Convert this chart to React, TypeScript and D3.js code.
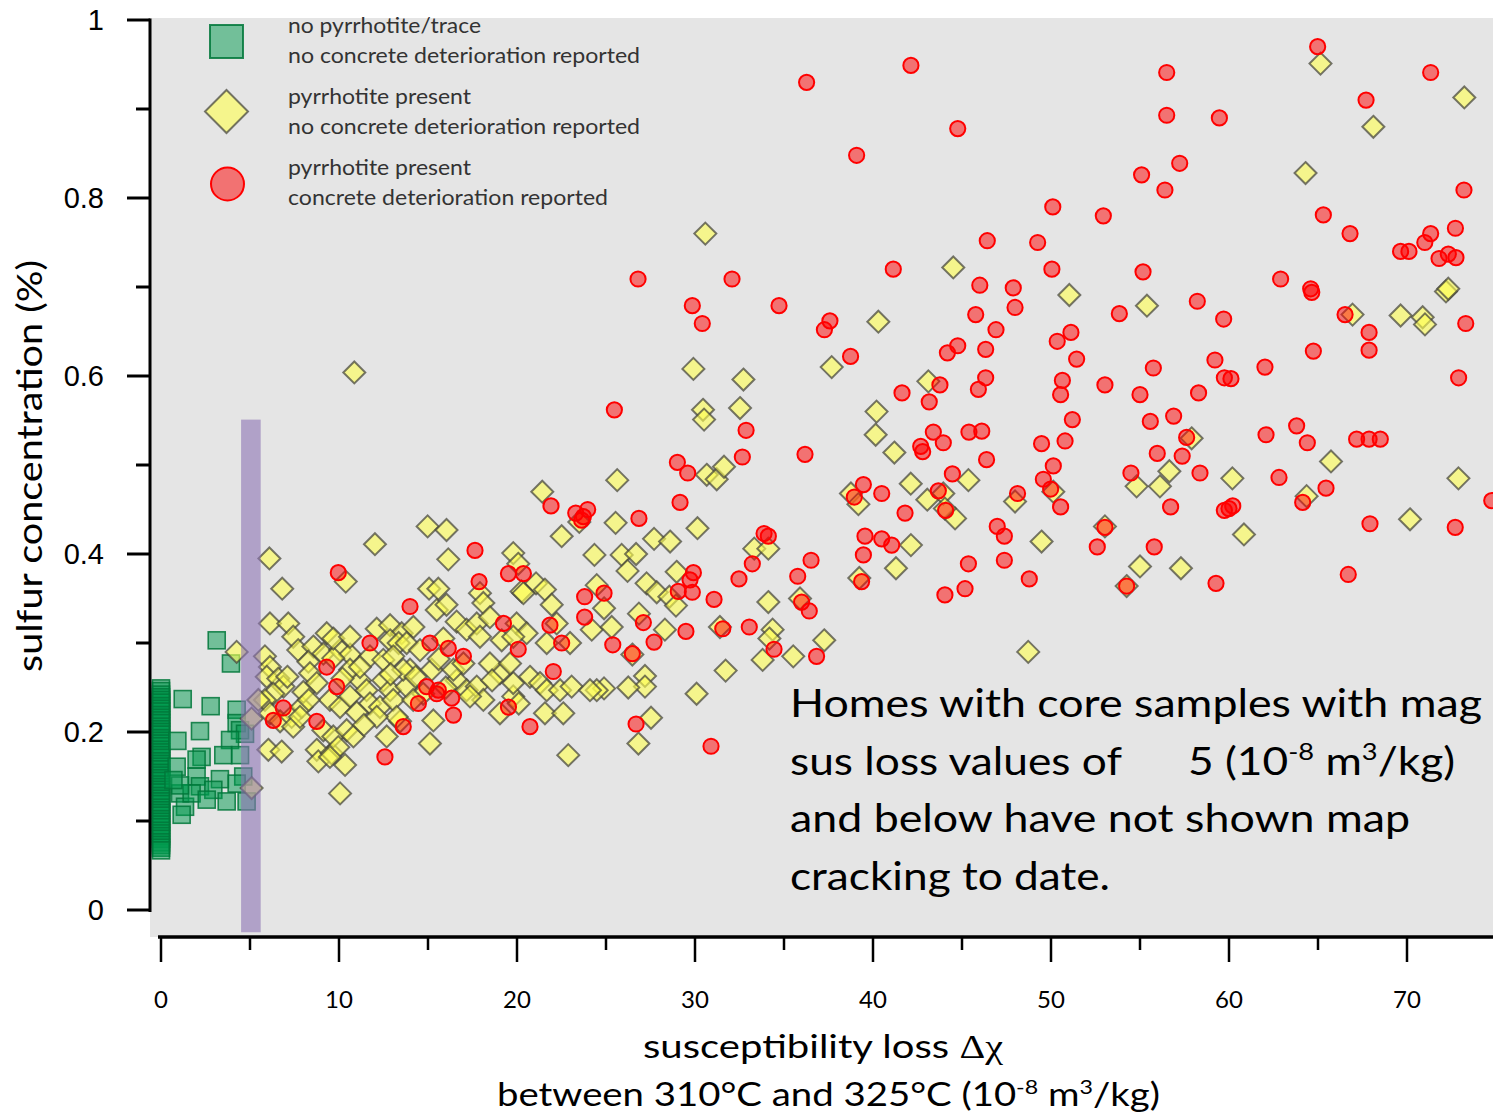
import React from "react";
import * as d3 from "d3";

// ---------- data (x = susceptibility loss, y = sulfur %) ----------
const squareColumnY = [0.249, 0.246, 0.242, 0.239, 0.236, 0.233, 0.229, 0.226, 0.223, 0.219, 0.216, 0.213, 0.210, 0.206, 0.203, 0.200, 0.197, 0.193, 0.190, 0.187, 0.184, 0.180, 0.177, 0.174, 0.171, 0.167, 0.164, 0.161, 0.158, 0.154, 0.151, 0.148, 0.145, 0.141, 0.138, 0.135, 0.132, 0.128, 0.125, 0.122, 0.119, 0.115, 0.112, 0.109, 0.106, 0.102, 0.099, 0.096, 0.093, 0.089, 0.086, 0.083, 0.080, 0.076, 0.073, 0.070, 0.067];

const squares: [number, number][] = [
  [3.13, 0.303], [3.93, 0.277], [1.22, 0.237], [2.79, 0.229], [4.25, 0.225], [2.19, 0.201], [0.92, 0.190],
  [4.25, 0.210], [4.44, 0.202], [4.72, 0.198], [3.88, 0.191], [3.50, 0.174], [4.44, 0.174], [2.28, 0.172],
  [2.00, 0.169], [0.88, 0.161], [3.31, 0.147], [4.62, 0.150], [2.00, 0.150], [2.19, 0.139], [2.94, 0.135],
  [3.69, 0.122], [4.81, 0.122], [4.25, 0.142], [1.07, 0.131], [1.35, 0.116], [1.16, 0.107], [1.72, 0.131],
  [2.57, 0.124], [1.07, 0.140], [0.70, 0.146],
];

const diamonds: [number, number][] = [
  [30.58, 0.760], [44.51, 0.722], [40.30, 0.661], [29.91, 0.608], [32.72, 0.596], [37.68, 0.610], [43.11, 0.594],
  [32.53, 0.564], [30.45, 0.562], [40.20, 0.560],
  [65.14, 0.951], [73.22, 0.913], [68.11, 0.880], [64.30, 0.828], [51.03, 0.691], [55.39, 0.679], [66.94, 0.669],
  [69.64, 0.668], [70.88, 0.666], [71.01, 0.658], [72.19, 0.695], [72.32, 0.698],
  [57.90, 0.530], [65.73, 0.504], [72.89, 0.485], [56.65, 0.493], [54.81, 0.476], [56.12, 0.476], [60.19, 0.485],
  [64.36, 0.465], [50.13, 0.470], [70.17, 0.439], [60.84, 0.422], [53.03, 0.431], [49.47, 0.414], [55.00, 0.386],
  [57.30, 0.384], [54.25, 0.364],
  [30.51, 0.551], [40.15, 0.534], [41.20, 0.514], [42.12, 0.479], [43.05, 0.461], [43.95, 0.468], [44.61, 0.440],
  [45.36, 0.483], [44.04, 0.451], [47.98, 0.459], [42.13, 0.410], [41.29, 0.384], [38.76, 0.468], [39.18, 0.456],
  [39.23, 0.373], [48.72, 0.290],
  [25.63, 0.483], [25.54, 0.435], [30.14, 0.429], [24.35, 0.399], [25.88, 0.399], [26.69, 0.400], [27.70, 0.417],
  [28.60, 0.414], [26.21, 0.381], [28.97, 0.380], [30.66, 0.489], [31.22, 0.484], [31.63, 0.498], [33.33, 0.406],
  [34.12, 0.406], [24.48, 0.365], [27.28, 0.367], [27.85, 0.357], [28.56, 0.352], [28.93, 0.342], [34.12, 0.346],
  [35.90, 0.350], [24.89, 0.339], [26.85, 0.333], [24.20, 0.315], [25.32, 0.318], [28.31, 0.315], [31.40, 0.318],
  [34.36, 0.315], [34.18, 0.305], [37.26, 0.303], [33.80, 0.281], [35.52, 0.285], [31.72, 0.269], [26.48, 0.287],
  [27.19, 0.263], [27.19, 0.251], [24.89, 0.249], [26.25, 0.250], [30.09, 0.243], [27.53, 0.216], [26.82, 0.187],
  [10.86, 0.604], [21.42, 0.470], [22.51, 0.420], [23.50, 0.436], [14.98, 0.431], [16.04, 0.427], [12.02, 0.411],
  [16.14, 0.394], [6.09, 0.395], [6.81, 0.361], [10.38, 0.369], [19.79, 0.401], [20.07, 0.389], [15.06, 0.361],
  [15.58, 0.361], [17.92, 0.356], [21.07, 0.367], [21.57, 0.360], [20.26, 0.358],
  [18.11, 0.345], [20.36, 0.356], [21.95, 0.343], [15.49, 0.337], [16.04, 0.343], [6.12, 0.322], [7.15, 0.322],
  [7.43, 0.307], [7.71, 0.292], [8.56, 0.296], [9.12, 0.288], [8.28, 0.279], [12.12, 0.316], [12.87, 0.320],
  [13.52, 0.311], [14.18, 0.318], [10.06, 0.292], [10.62, 0.287], [9.68, 0.283], [12.87, 0.303], [13.35, 0.300],
  [15.86, 0.305], [16.61, 0.324], [17.17, 0.315], [17.74, 0.322], [18.48, 0.329], [17.92, 0.307], [19.98, 0.322],
  [20.54, 0.311], [19.14, 0.303], [19.79, 0.307], [22.23, 0.322], [22.98, 0.300], [21.67, 0.300],
  [5.84, 0.285], [6.12, 0.273], [5.94, 0.262], [6.59, 0.260], [6.88, 0.251], [6.31, 0.243], [5.84, 0.236],
  [6.12, 0.221], [6.69, 0.212], [7.34, 0.217], [7.90, 0.228], [7.43, 0.206], [7.81, 0.217], [6.03, 0.180],
  [6.78, 0.178], [8.75, 0.180], [8.84, 0.167], [9.59, 0.176], [10.34, 0.163], [10.06, 0.131], [8.37, 0.266],
  [8.75, 0.255], [9.49, 0.236], [10.06, 0.228], [10.62, 0.240], [11.18, 0.258], [11.55, 0.247], [12.49, 0.258],
  [12.87, 0.247], [11.74, 0.232], [12.30, 0.228], [13.05, 0.236], [9.12, 0.202], [9.68, 0.195], [10.43, 0.202],
  [10.81, 0.195], [9.96, 0.183], [9.49, 0.172], [12.68, 0.195], [13.43, 0.212], [13.24, 0.217], [12.12, 0.217],
  [13.99, 0.270], [13.80, 0.251], [14.73, 0.243], [14.17, 0.236], [15.21, 0.270], [15.30, 0.213], [15.11, 0.187],
  [16.61, 0.258], [17.17, 0.247], [17.74, 0.251], [18.11, 0.236], [16.43, 0.270], [16.99, 0.277], [17.36, 0.240],
  [19.04, 0.221], [19.79, 0.240], [19.79, 0.255], [19.04, 0.266], [18.48, 0.277], [19.61, 0.277], [20.73, 0.262],
  [21.29, 0.255], [21.67, 0.247], [22.42, 0.247], [21.57, 0.221], [22.60, 0.221], [23.07, 0.251], [22.88, 0.174],
  [11.74, 0.285], [12.49, 0.281], [10.62, 0.270], [11.18, 0.273], [13.05, 0.285], [13.61, 0.270], [13.80, 0.300],
  [14.55, 0.292], [9.31, 0.311], [9.68, 0.305], [10.62, 0.307], [24.48, 0.247], [24.10, 0.247],
  [4.25, 0.290], [5.09, 0.215], [5.47, 0.236], [5.09, 0.137],
  [7.10, 0.262], [8.00, 0.245], [11.00, 0.222], [12.90, 0.265], [14.30, 0.262], [16.00, 0.250], [18.60, 0.258],
  [20.10, 0.232], [11.40, 0.208], [8.30, 0.236], [10.20, 0.260], [15.60, 0.282],
];

const circles: [number, number][] = [
  [36.27, 0.930], [42.13, 0.949], [44.76, 0.878], [39.08, 0.848], [50.10, 0.790], [46.42, 0.752], [49.25, 0.750],
  [50.05, 0.720], [41.14, 0.720], [46.00, 0.702], [47.88, 0.699], [47.98, 0.677], [45.77, 0.669], [46.91, 0.652],
  [44.76, 0.634], [44.18, 0.626], [46.33, 0.630], [46.33, 0.598], [45.92, 0.585], [43.76, 0.590], [41.63, 0.581],
  [43.16, 0.571], [26.80, 0.709], [32.08, 0.709], [29.85, 0.679], [30.41, 0.659], [34.72, 0.679], [37.58, 0.662],
  [37.27, 0.652], [38.74, 0.622], [25.47, 0.562], [50.35, 0.639],
  [64.98, 0.970], [56.50, 0.941], [71.33, 0.941], [67.70, 0.910], [56.50, 0.893], [59.46, 0.890], [57.23, 0.839],
  [55.09, 0.826], [56.40, 0.809], [73.20, 0.809], [52.94, 0.780], [65.30, 0.781], [66.80, 0.760], [72.72, 0.766],
  [71.33, 0.760], [71.00, 0.750], [69.64, 0.740], [70.11, 0.740], [71.80, 0.732], [72.32, 0.737], [72.75, 0.733],
  [55.17, 0.717], [62.90, 0.709], [64.59, 0.698], [64.65, 0.694], [53.84, 0.670], [58.22, 0.684], [59.70, 0.664],
  [66.52, 0.669], [67.87, 0.649], [67.87, 0.629], [73.30, 0.659], [51.12, 0.649], [51.44, 0.619], [55.75, 0.609],
  [59.21, 0.618], [59.74, 0.598], [60.11, 0.597], [62.02, 0.610], [64.74, 0.628], [72.90, 0.598], [50.64, 0.595],
  [53.03, 0.590], [50.54, 0.579], [55.00, 0.579], [58.29, 0.581],
  [51.20, 0.551], [55.58, 0.549], [56.89, 0.555], [49.47, 0.524], [50.79, 0.527], [57.62, 0.531], [62.08, 0.534],
  [63.80, 0.544], [64.40, 0.525], [67.17, 0.529], [67.87, 0.529], [68.50, 0.529], [50.13, 0.499], [55.97, 0.513],
  [57.37, 0.510], [54.49, 0.491], [58.37, 0.491], [62.81, 0.486], [65.45, 0.474], [49.57, 0.484], [49.98, 0.473],
  [50.54, 0.453], [56.72, 0.453], [59.74, 0.449], [60.00, 0.451], [60.21, 0.454], [64.14, 0.458], [74.76, 0.460],
  [67.92, 0.434], [72.71, 0.430], [53.03, 0.430], [52.60, 0.408], [55.80, 0.408], [54.25, 0.364], [59.27, 0.367],
  [66.70, 0.377],
  [32.87, 0.539], [29.01, 0.503], [29.59, 0.491], [32.66, 0.509], [36.18, 0.512], [29.16, 0.458], [23.97, 0.450],
  [23.73, 0.442], [26.85, 0.440], [33.88, 0.423], [34.12, 0.420], [33.22, 0.389], [32.47, 0.372], [36.52, 0.393],
  [35.77, 0.375], [29.91, 0.379], [29.72, 0.371], [29.85, 0.357], [29.06, 0.358], [31.07, 0.349], [24.89, 0.356],
  [23.80, 0.352], [23.80, 0.329], [27.10, 0.323], [27.70, 0.301], [29.49, 0.313], [25.38, 0.298], [26.48, 0.288],
  [31.56, 0.316], [33.05, 0.318], [35.99, 0.346], [36.42, 0.336], [34.44, 0.293], [36.83, 0.285], [39.46, 0.478],
  [40.49, 0.468], [38.95, 0.464], [41.80, 0.446], [39.55, 0.420], [40.49, 0.417], [41.05, 0.410], [39.46, 0.399],
  [39.36, 0.369], [43.39, 0.537], [43.95, 0.525], [42.68, 0.521], [42.79, 0.515], [45.39, 0.537], [46.11, 0.538],
  [46.38, 0.506], [44.46, 0.490], [43.67, 0.471], [44.08, 0.449], [48.12, 0.468], [46.98, 0.431], [47.38, 0.420],
  [45.36, 0.389], [47.38, 0.393], [48.78, 0.372], [44.04, 0.354], [45.17, 0.361],
  [26.69, 0.209], [30.90, 0.184],
  [21.91, 0.454], [23.30, 0.446], [23.63, 0.438], [17.64, 0.404], [9.96, 0.379], [17.87, 0.369], [19.52, 0.378],
  [20.36, 0.378],
  [13.99, 0.341], [19.24, 0.322], [20.07, 0.293], [21.85, 0.320], [22.51, 0.300], [11.74, 0.300], [15.11, 0.300],
  [16.14, 0.294], [16.99, 0.285], [6.87, 0.227], [6.31, 0.213], [8.75, 0.212], [9.31, 0.273], [9.87, 0.251],
  [12.58, 0.172], [13.61, 0.206], [14.92, 0.251], [15.49, 0.243], [15.58, 0.247], [14.46, 0.232], [16.33, 0.238],
  [16.43, 0.219], [19.52, 0.228], [20.73, 0.206], [22.04, 0.268],
];

// threshold band at 5 (10^-8 m3/kg)
const bandX = [4.5, 5.6];
const bandY = [-0.025, 0.551];

const xTicks = [0, 10, 20, 30, 40, 50, 60, 70];
const xTickLabels = ["0", "10", "20", "30", "40", "50", "60", "70"];
const xMinorTicks = [5, 15, 25, 35, 45, 55, 65];
const yTicks = [0, 0.2, 0.4, 0.6, 0.8, 1];
const yTickLabels = ["0", "0.2", "0.4", "0.6", "0.8", "1"];
const yMinorTicks = [0.1, 0.3, 0.5, 0.7, 0.9];

const legendItems = [
  { shape: "square", line1: "no pyrrhotite/trace", line2: "no concrete deterioration reported", w1: 193, w2: 352 },
  { shape: "diamond", line1: "pyrrhotite present", line2: "no concrete deterioration reported", w1: 183, w2: 352 },
  { shape: "circle", line1: "pyrrhotite present", line2: "concrete deterioration reported", w1: 183, w2: 320 },
];

const W = 1493;
const H = 1119;
const CAL = "Lato, 'Open Sans', sans-serif";

const x = d3.scaleLinear().domain([0, 75]).range([161, 161 + 75 * 17.8]);
const y = d3.scaleLinear().domain([0, 1]).range([910, 20]);

const SQ = 17; // square side
const DH = 11; // diamond half diagonal
const CR = 7.6; // circle radius

const diamondPath = (cx: number, cy: number, h: number) =>
  `M${cx},${cy - h}L${cx + h},${cy}L${cx},${cy + h}L${cx - h},${cy}Z`;

const squareStyle = { fill: "#00994d", fillOpacity: 0.5, stroke: "#00773a", strokeOpacity: 0.85, strokeWidth: 1.6 };
const diamondStyle = { fill: "#ffff50", fillOpacity: 0.6, stroke: "#44443a", strokeOpacity: 0.72, strokeWidth: 2 };
const circleStyle = { fill: "#ff0000", fillOpacity: 0.5, stroke: "#ff0000", strokeWidth: 2 };

export default function App() {
  const allSquares: [number, number][] = [...squareColumnY.map((v) => [0, v] as [number, number]), ...squares];
  return (
    <svg width={W} height={H} style={{ position: "absolute", left: 0, top: 0, background: "#fff" }}>
      {/* plot background */}
      <rect x={150} y={18} width={W - 150} height={937 - 18} fill="#e5e5e5" />

      {/* markers */}
      <g>
        {allSquares.map(([a, b], i) => (
          <rect key={"s" + i} x={x(a) - SQ / 2} y={y(b) - SQ / 2} width={SQ} height={SQ} {...squareStyle} />
        ))}
      </g>
      <g>
        {diamonds.map(([a, b], i) => (
          <path key={"d" + i} d={diamondPath(x(a), y(b), DH)} {...diamondStyle} />
        ))}
      </g>
      <g>
        {circles.map(([a, b], i) => (
          <circle key={"c" + i} cx={x(a)} cy={y(b)} r={CR} {...circleStyle} />
        ))}
      </g>

      {/* threshold band */}
      <rect
        x={x(bandX[0])}
        y={y(bandY[1])}
        width={x(bandX[1]) - x(bandX[0])}
        height={y(bandY[0]) - y(bandY[1])}
        fill="#8c73b4"
        fillOpacity={0.6}
      />

      {/* y axis */}
      <line x1={150} x2={150} y1={y(1) - 1.5} y2={y(0) + 2} stroke="#000" strokeWidth={3} />
      {yTicks.map((t, i) => (
        <g key={"yt" + i}>
          <line x1={127} x2={150} y1={y(t)} y2={y(t)} stroke="#000" strokeWidth={3} />
          <text
            x={104}
            y={y(t)}
            dy="0.36em"
            textAnchor="end"
            fontFamily="'Liberation Sans', Arial, sans-serif"
            fontSize={29}
            fill="#000"
          >
            {yTickLabels[i]}
          </text>
        </g>
      ))}
      {yMinorTicks.map((t, i) => (
        <line key={"ym" + i} x1={136} x2={150} y1={y(t)} y2={y(t)} stroke="#000" strokeWidth={3} />
      ))}

      {/* x axis */}
      <line x1={158} x2={W} y1={937} y2={937} stroke="#000" strokeWidth={3.5} />
      {xTicks.map((t, i) => (
        <g key={"xt" + i}>
          <line x1={x(t)} x2={x(t)} y1={937} y2={962} stroke="#000" strokeWidth={2.5} />
          <text x={x(t)} y={1008} textAnchor="middle" fontFamily={CAL} fontSize={24} fill="#000">
            {xTickLabels[i]}
          </text>
        </g>
      ))}
      {xMinorTicks.map((t, i) => (
        <line key={"xm" + i} x1={x(t)} x2={x(t)} y1={937} y2={950} stroke="#000" strokeWidth={2.5} />
      ))}

      {/* axis titles */}
      <text x={643} y={1058} fontFamily={CAL} fontSize={33} fill="#000" textLength={360} lengthAdjust="spacingAndGlyphs">
        susceptibility loss <tspan fontFamily="'Liberation Serif', serif">Δχ</tspan>
      </text>
      <text x={497} y={1106} fontFamily={CAL} fontSize={33} fill="#000" textLength={663} lengthAdjust="spacingAndGlyphs">
        between 310°C and 325°C (10<tspan dy={-12} fontSize={20}>-8</tspan>
        <tspan dy={12}> m</tspan>
        <tspan dy={-12} fontSize={20}>3</tspan>
        <tspan dy={12}>/kg)</tspan>
      </text>
      <text
        transform="translate(42,466) rotate(-90)"
        textAnchor="middle"
        fontFamily={CAL}
        fontSize={34}
        fill="#000"
        textLength={412}
        lengthAdjust="spacingAndGlyphs"
      >
        sulfur concentration (%)
      </text>

      {/* legend */}
      {legendItems.map((it, i) => {
        const cy = [41.5, 111.5, 184][i];
        const base = [33, 104, 175][i];
        return (
          <g key={"lg" + i}>
            {it.shape === "square" && (
              <rect x={210} y={cy - 16.5} width={33} height={33} {...squareStyle} strokeWidth={2} />
            )}
            {it.shape === "diamond" && <path d={diamondPath(226.5, cy, 21.5)} {...diamondStyle} />}
            {it.shape === "circle" && <circle cx={227.5} cy={cy} r={16.5} {...circleStyle} />}
            <text x={288} y={base} fontFamily={CAL} fontSize={21} fill="#333" textLength={it.w1} lengthAdjust="spacingAndGlyphs">
              {it.line1}
            </text>
            <text x={288} y={base + 30} fontFamily={CAL} fontSize={21} fill="#333" textLength={it.w2} lengthAdjust="spacingAndGlyphs">
              {it.line2}
            </text>
          </g>
        );
      })}

      {/* annotation */}
      <g fontFamily={CAL} fontSize={39} fill="#000">
        <text x={790} y={717} textLength={692} lengthAdjust="spacingAndGlyphs">Homes with core samples with mag</text>
        <text x={790} y={774.5} textLength={332} lengthAdjust="spacingAndGlyphs">sus loss values of</text>
        <text x={1188} y={774.5} textLength={267} lengthAdjust="spacingAndGlyphs">
          5 (10<tspan dy={-15} fontSize={24}>-8</tspan>
          <tspan dy={15}> m</tspan>
          <tspan dy={-15} fontSize={24}>3</tspan>
          <tspan dy={15}>/kg)</tspan>
        </text>
        <text x={790} y={832} textLength={620} lengthAdjust="spacingAndGlyphs">and below have not shown map</text>
        <text x={790} y={889.5} textLength={320} lengthAdjust="spacingAndGlyphs">cracking to date.</text>
      </g>
    </svg>
  );
}
